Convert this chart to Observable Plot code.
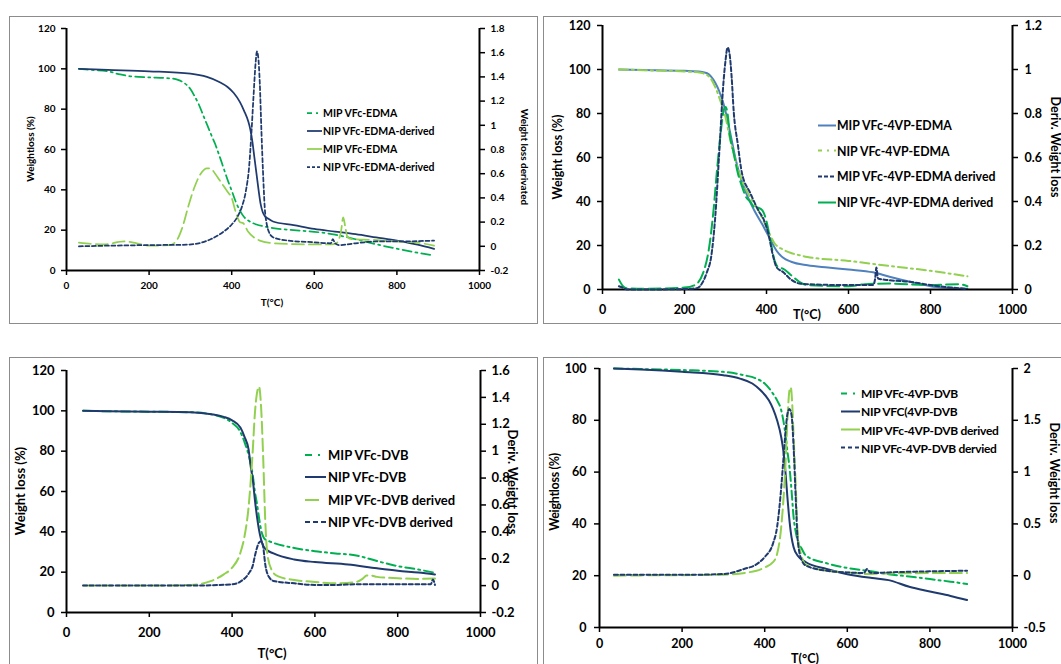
<!DOCTYPE html>
<html>
<head>
<meta charset="utf-8">
<script src="https://cdn.jsdelivr.net/npm/d3@7"></script>
<script src="https://cdn.jsdelivr.net/npm/@observablehq/plot@0.6"></script>
<style>
  html, body { margin: 0; padding: 0; background: #fff; overflow: hidden; }
  #root { position: relative; width: 1061px; height: 664px; overflow: hidden; font-family: Lato, "Open Sans", sans-serif; font-weight: bold; color: #000; }
  .abs { position: absolute; }
  .ttl { position: absolute; white-space: nowrap; font-weight: bold; }
  .leg { position: absolute; white-space: nowrap; display: flex; align-items: center; transform: translateY(-50%); font-weight: bold; }
</style>
</head>
<body>
<div id="root"></div>
<script>
// ---------------- shared ticks ----------------
const xTicks = [0, 200, 400, 600, 800, 1000];

// ---------------- Panel TL : VFc-EDMA ----------------
const tlYTicks = [0, 20, 40, 60, 80, 100, 120];
const tlY2Ticks = [-0.2, 0, 0.2, 0.4, 0.6, 0.8, 1, 1.2, 1.4, 1.6, 1.8];
const tlLabels = ["MIP VFc-EDMA", "NIP VFc-EDMA-derived", "MIP VFc-EDMA", "NIP VFc-EDMA-derived"];

const tlMipT = [30, 60, 100, 130, 160, 200, 250, 270, 285, 300, 310, 320, 330, 340, 350, 360, 370, 380, 390, 400, 410, 420, 430, 440, 460, 480, 500, 550, 600, 650, 700, 750, 800, 850, 890];
const tlMipV = [100, 99.5, 98.8, 97.2, 96.2, 95.8, 95.3, 94.5, 93, 90, 86.5, 82.5, 77.5, 72.5, 67.5, 62.7, 57, 51, 45, 39.6, 34, 29.7, 26.5, 24.8, 22.8, 21.8, 21, 20, 19.2, 17.8, 15.5, 13, 10.8, 8.8, 7.4];

const tlNipT = [30, 100, 200, 300, 340, 370, 390, 405, 420, 430, 440, 445, 450, 455, 460, 465, 470, 475, 480, 490, 500, 550, 600, 650, 700, 750, 800, 850, 890];
const tlNipV = [100, 99.5, 98.8, 97.6, 96, 93.5, 91, 88, 83.5, 79.2, 74, 70, 64, 56, 48, 40, 33, 29, 27, 25.5, 24.3, 22.5, 20.6, 19.3, 18, 16.4, 14.8, 12.8, 10.7];

const tlMipDerT = [30, 60, 90, 140, 170, 200, 250, 265, 280, 295, 310, 325, 340, 350, 360, 370, 380, 390, 400, 410, 420, 428, 440, 455, 470, 500, 550, 600, 640, 655, 665, 670, 675, 680, 690, 720, 760, 800, 850, 890];
const tlMipDerV = [0.03, 0.02, 0.015, 0.04, 0.025, 0.005, 0.01, 0.04, 0.15, 0.33, 0.49, 0.6, 0.645, 0.64, 0.6, 0.55, 0.5, 0.45, 0.4, 0.28, 0.2, 0.19, 0.12, 0.07, 0.045, 0.025, 0.018, 0.015, 0.015, 0.03, 0.13, 0.24, 0.16, 0.08, 0.06, 0.055, 0.05, 0.04, 0.03, 0.005];

const tlNipDerT = [30, 100, 200, 280, 320, 350, 380, 400, 415, 425, 435, 442, 448, 453, 458, 461, 464, 468, 472, 476, 480, 485, 490, 500, 530, 600, 640, 645, 650, 660, 700, 750, 800, 890];
const tlNipDerV = [0, 0.005, 0.01, 0.012, 0.025, 0.06, 0.12, 0.18, 0.25, 0.33, 0.47, 0.65, 0.95, 1.25, 1.52, 1.61, 1.57, 1.35, 0.95, 0.6, 0.32, 0.18, 0.12, 0.075, 0.05, 0.033, 0.025, 0.06, 0.025, 0.01, 0.025, 0.04, 0.04, 0.047];

// ---------------- Panel TR : VFc-4VP-EDMA ----------------
const trYTicks = [0, 20, 40, 60, 80, 100, 120];
const trY2Ticks = [0, 0.2, 0.4, 0.6, 0.8, 1, 1.2];
const trLabels = ["MIP VFc-4VP-EDMA", "NIP VFc-4VP-EDMA", "MIP VFc-4VP-EDMA derived", "NIP VFc-4VP-EDMA derived"];

const trMipT = [40, 100, 200, 240, 255, 265, 275, 285, 295, 305, 315, 325, 335, 350, 370, 390, 410, 425, 440, 460, 500, 550, 600, 660, 700, 750, 800, 850, 890];
const trMipV = [100, 99.8, 99.4, 99, 98.3, 96.8, 94, 90, 84.5, 77, 68, 59, 52, 44, 36, 29.5, 22.5, 17.5, 14.5, 12.6, 11, 10, 9.1, 7.8, 5.8, 3.5, 1.5, 0.7, 0.3];

const trNipT = [40, 100, 200, 240, 260, 275, 290, 300, 310, 320, 330, 340, 360, 380, 400, 420, 440, 460, 480, 500, 600, 700, 800, 890];
const trNipV = [100, 99.7, 99.1, 98.5, 96.8, 92, 84.4, 78.4, 69.3, 61.7, 55, 49.6, 42, 36, 28.4, 20.9, 18.2, 16.6, 15.6, 14.8, 13, 10.7, 8.5, 6];

const trMipDerT = [40, 50, 60, 100, 200, 230, 245, 255, 265, 275, 285, 295, 300, 305, 310, 315, 320, 330, 340, 360, 380, 395, 405, 415, 425, 440, 460, 480, 500, 600, 660, 665, 668, 672, 700, 750, 800, 850, 890];
const trMipDerV = [0.015, 0.008, 0, 0, 0.002, 0.006, 0.035, 0.08, 0.148, 0.33, 0.63, 0.94, 1.04, 1.1, 1.07, 0.965, 0.81, 0.66, 0.53, 0.44, 0.36, 0.31, 0.25, 0.16, 0.1, 0.08, 0.045, 0.027, 0.024, 0.02, 0.02, 0.05, 0.1, 0.05, 0.042, 0.035, 0.02, 0.009, 0.003];

const trNipDerT = [40, 50, 60, 100, 200, 225, 245, 260, 270, 280, 290, 295, 300, 305, 310, 320, 330, 340, 350, 360, 370, 380, 390, 400, 410, 420, 430, 440, 460, 480, 500, 600, 640, 700, 800, 870, 890];
const trNipDerV = [0.045, 0.015, 0.005, 0.003, 0.009, 0.02, 0.073, 0.19, 0.345, 0.557, 0.74, 0.81, 0.83, 0.8, 0.71, 0.62, 0.53, 0.47, 0.42, 0.4, 0.375, 0.372, 0.36, 0.31, 0.22, 0.13, 0.1, 0.095, 0.065, 0.035, 0.02, 0.015, 0.024, 0.027, 0.02, 0.024, 0.015];

// ---------------- Panel BL : VFc-DVB ----------------
const blYTicks = [0, 20, 40, 60, 80, 100, 120];
const blY2Ticks = [-0.2, 0, 0.2, 0.4, 0.6, 0.8, 1, 1.2, 1.4, 1.6];
const blLabels = ["MIP VFc-DVB", "NIP VFc-DVB", "MIP VFc-DVB derived", "NIP VFc-DVB derived"];

const blMipT = [40, 100, 200, 300, 350, 380, 400, 420, 430, 440, 450, 455, 460, 465, 470, 480, 490, 500, 550, 600, 650, 700, 750, 800, 850, 890];
const blMipV = [100, 99.8, 99.6, 99.3, 98.3, 96.5, 94, 89.5, 84.5, 78, 68, 60, 54, 47, 41, 36.2, 35.3, 34.5, 32, 30.4, 29.3, 28.3, 25.5, 23, 21.3, 19.7];

const blNipT = [40, 100, 200, 300, 350, 380, 400, 420, 430, 440, 445, 450, 455, 460, 465, 470, 475, 480, 500, 550, 600, 680, 750, 800, 850, 890];
const blNipV = [100, 99.8, 99.6, 99.3, 98.3, 97, 95.3, 91.7, 87.1, 80.6, 72.3, 65.8, 56, 47.7, 41, 36.2, 33.2, 31.6, 29.3, 26.3, 25, 23.8, 21.9, 20.7, 19.8, 18.9];

const blMipDerT = [40, 100, 200, 300, 350, 380, 400, 420, 430, 440, 450, 455, 460, 465, 470, 475, 480, 485, 495, 510, 550, 600, 650, 700, 715, 725, 735, 750, 800, 850, 890];
const blMipDerV = [0, 0, 0, 0.005, 0.035, 0.084, 0.133, 0.244, 0.367, 0.59, 1.01, 1.28, 1.43, 1.48, 1.33, 0.96, 0.49, 0.24, 0.12, 0.07, 0.042, 0.027, 0.017, 0.027, 0.05, 0.075, 0.075, 0.065, 0.055, 0.05, 0.052];

const blNipDerT = [40, 100, 200, 300, 400, 420, 440, 450, 455, 460, 465, 470, 475, 480, 485, 490, 500, 550, 600, 650, 700, 800, 880, 885, 890];
const blNipDerV = [0, 0, 0, 0, 0.01, 0.03, 0.09, 0.15, 0.22, 0.28, 0.32, 0.33, 0.29, 0.16, 0.09, 0.06, 0.035, 0.017, 0.005, 0.005, 0.01, 0.01, 0.01, 0.045, 0.005];

// ---------------- Panel BR : VFc-4VP-DVB ----------------
const brYTicks = [0, 20, 40, 60, 80, 100];
const brY2Ticks = [-0.5, 0, 0.5, 1, 1.5, 2];
const brLabels = ["MIP VFc-4VP-DVB", "NIP VFC(4VP-DVB", "MIP VFc-4VP-DVB derived", "NIP VFc-4VP-DVB dervied"];

const brMipT = [35, 100, 200, 300, 350, 380, 400, 420, 430, 440, 450, 455, 460, 465, 470, 475, 480, 490, 500, 550, 600, 650, 700, 750, 800, 850, 890];
const brMipV = [100, 99.8, 99.4, 98.7, 97.4, 96.1, 94.2, 90.3, 87.7, 83.9, 74.8, 68, 61.9, 52.9, 42.6, 37, 33.5, 30.3, 27.7, 24.8, 23, 21.9, 20.6, 19.7, 18.7, 17.7, 16.8];

const brNipT = [35, 100, 200, 300, 340, 370, 390, 410, 420, 430, 440, 445, 450, 455, 460, 465, 470, 480, 500, 550, 600, 660, 700, 750, 800, 850, 890];
const brNipV = [100, 99.6, 98.7, 97.4, 96.1, 94.2, 91.6, 87.7, 84.5, 80, 73.5, 68.4, 60.6, 50.3, 41.3, 34.8, 31, 27.7, 25.2, 22.6, 20.6, 19.1, 18.3, 15.7, 13.9, 12.2, 10.6];

const brMipDerT = [35, 100, 200, 300, 380, 400, 420, 430, 440, 450, 455, 460, 463, 467, 470, 475, 480, 490, 500, 550, 600, 650, 680, 700, 800, 890];
const brMipDerV = [0, 0.003, 0.005, 0.01, 0.048, 0.08, 0.13, 0.21, 0.47, 1.05, 1.5, 1.79, 1.82, 1.63, 1.34, 0.89, 0.4, 0.18, 0.106, 0.048, 0.032, 0.016, 0.02, 0.022, 0.025, 0.026];

const brNipDerT = [35, 100, 200, 300, 350, 380, 400, 420, 430, 440, 445, 450, 455, 460, 465, 470, 475, 480, 490, 500, 550, 600, 640, 648, 655, 665, 700, 800, 890];
const brNipDerV = [0.01, 0.01, 0.008, 0.016, 0.065, 0.11, 0.18, 0.31, 0.47, 0.85, 1.11, 1.37, 1.56, 1.61, 1.55, 1.24, 0.76, 0.34, 0.145, 0.097, 0.048, 0.032, 0.026, 0.065, 0.03, 0.026, 0.032, 0.042, 0.048];

// ---------------- styling ----------------
const NAVY = "#1f3a6e", GREEN = "#00b050", LIGHT = "#92d050", STEEL = "#4f81bd";
const DASHDOT = "9,4,2,4", LONG = "12,5", SHORT = "4,2.5";
const FONT = "Lato, 'Open Sans', sans-serif";

const pts = (T, V) => T.map((t, i) => ({T: t, v: V[i]}));
const root = document.getElementById("root");

function el(cls, css, html) {
  const d = document.createElement("div");
  d.className = cls;
  Object.assign(d.style, css);
  if (html != null) d.textContent = html;
  root.appendChild(d);
  return d;
}

function lineMark(s) {
  return Plot.line(pts(s.T, s.V), {x: "T", y: "v", stroke: s.color, strokeWidth: s.w,
    strokeDasharray: s.dash || undefined, curve: "monotone-x"});
}

function drawPanel(p) {
  const [bx, by, bw, bh] = p.box;
  el("abs", {left: bx + "px", top: by + "px", width: bw + "px", height: bh + "px",
    border: "1px solid #8c8c8c", boxSizing: "border-box"});
  const common = {
    width: bw, height: bh,
    marginLeft: p.m[0], marginRight: p.m[1], marginTop: p.m[2], marginBottom: p.m[3],
    style: {fontFamily: FONT, fontSize: p.fs + "px", fontWeight: "bold", color: "#000",
      background: "transparent", overflow: "visible", maxWidth: "none", width: bw + "px", height: bh + "px"}
  };
  const plot1 = Plot.plot({
    ...common,
    x: {domain: [0, 1000]},
    y: {domain: [p.yTicks[0], p.yTicks[p.yTicks.length - 1]]},
    marks: [
      ...p.left.map(lineMark),
      Plot.ruleX([0], {stroke: "#000", strokeWidth: 2}),
      Plot.ruleY([p.yTicks[0]], {stroke: "#000", strokeWidth: 2}),
      Plot.axisX({ticks: xTicks, tickSize: 5, tickPadding: p.xPad, tickFormat: d => String(d), label: null, strokeWidth: 1.5}),
      Plot.axisY({ticks: p.yTicks, tickSize: 5, tickPadding: p.yPad, tickFormat: d => String(d), label: null, strokeWidth: 1.5})
    ]
  });
  const plot2 = Plot.plot({
    ...common,
    x: {domain: [0, 1000], axis: null},
    y: {domain: [p.y2Ticks[0], p.y2Ticks[p.y2Ticks.length - 1]]},
    marks: [
      ...p.right.map(lineMark),
      Plot.ruleX([1000], {stroke: "#000", strokeWidth: 2}),
      Plot.axisY({anchor: "right", ticks: p.y2Ticks, tickSize: 5, tickPadding: p.y2Pad, tickFormat: d => String(d), label: null, strokeWidth: 1.5})
    ]
  });
  for (const pl of [plot1, plot2]) {
    const w = el("abs", {left: bx + "px", top: by + "px", width: bw + "px", height: bh + "px"});
    w.appendChild(pl);
  }
  for (const t of p.titles) {
    el("ttl", {left: t.x + "px", top: t.y + "px", fontSize: t.fs + "px",
      transform: `translate(-50%,-50%) rotate(${t.rot}deg)`, letterSpacing: (t.ls || 0) + "px"}, t.text);
  }
  const L = p.legend;
  p.legendItems.forEach((it, i) => {
    const row = el("leg", {left: L.x + "px", top: (L.y0 + i * L.dy) + "px", fontSize: L.fs + "px",
      letterSpacing: (L.ls || 0) + "px", wordSpacing: (L.ws || 0) + "px"});
    const ns = "http://www.w3.org/2000/svg";
    const svg = document.createElementNS(ns, "svg");
    svg.setAttribute("width", L.sw); svg.setAttribute("height", 6);
    svg.style.marginRight = L.gap + "px";
    const ln = document.createElementNS(ns, "line");
    ln.setAttribute("x1", 0); ln.setAttribute("x2", L.sw); ln.setAttribute("y1", 3); ln.setAttribute("y2", 3);
    ln.setAttribute("stroke", it.color); ln.setAttribute("stroke-width", it.w);
    if (it.dash) ln.setAttribute("stroke-dasharray", it.dash);
    svg.appendChild(ln);
    row.appendChild(svg);
    const sp = document.createElement("span");
    sp.textContent = it.label;
    row.appendChild(sp);
  });
}

// TL
drawPanel({
  box: [9, 16, 529, 308], m: [57, 59, 12, 54], fs: 10,
  xPad: 6, yPad: 6, y2Pad: 6,
  yTicks: tlYTicks, y2Ticks: tlY2Ticks,
  left: [
    {T: tlMipT, V: tlMipV, color: GREEN, w: 1.75, dash: DASHDOT},
    {T: tlNipT, V: tlNipV, color: NAVY, w: 1.75}
  ],
  right: [
    {T: tlMipDerT, V: tlMipDerV, color: LIGHT, w: 1.75, dash: LONG},
    {T: tlNipDerT, V: tlNipDerV, color: NAVY, w: 1.75, dash: SHORT}
  ],
  titles: [
    {text: "Weightloss (%)", x: 30, y: 149, rot: -90, fs: 10},
    {text: "Weight loss derivated", x: 525, y: 157, rot: 90, fs: 10},
    {text: "T(°C)", x: 272, y: 302, rot: 0, fs: 10}
  ],
  legend: {x: 307, y0: 113, dy: 18, fs: 10.5, sw: 15, gap: 1},
  legendItems: [
    {label: tlLabels[0], color: GREEN, w: 1.75, dash: "5,4,2,4"},
    {label: tlLabels[1], color: NAVY, w: 1.75},
    {label: tlLabels[2], color: LIGHT, w: 1.75},
    {label: tlLabels[3], color: NAVY, w: 1.75, dash: "3,2"}
  ]
});

// TR
drawPanel({
  box: [543, 16, 530, 308], m: [59, 61, 9, 35], fs: 12.5,
  xPad: 11, yPad: 7, y2Pad: 7,
  yTicks: trYTicks, y2Ticks: trY2Ticks,
  left: [
    {T: trMipT, V: trMipV, color: STEEL, w: 2},
    {T: trNipT, V: trNipV, color: LIGHT, w: 2, dash: DASHDOT}
  ],
  right: [
    {T: trNipDerT, V: trNipDerV, color: GREEN, w: 2, dash: LONG},
    {T: trMipDerT, V: trMipDerV, color: NAVY, w: 2, dash: SHORT}
  ],
  titles: [
    {text: "Weight loss (%)", x: 557, y: 157, rot: -90, fs: 12.5},
    {text: "Deriv. Weight loss", x: 1055, y: 147, rot: 90, fs: 12.5},
    {text: "T(°C)", x: 807, y: 314, rot: 0, fs: 12.5}
  ],
  legend: {x: 818, y0: 125, dy: 25.7, fs: 12.3, sw: 18, gap: 1},
  legendItems: [
    {label: trLabels[0], color: STEEL, w: 2},
    {label: trLabels[1], color: LIGHT, w: 2, dash: "4,5,2,5"},
    {label: trLabels[2], color: NAVY, w: 2, dash: "4,2"},
    {label: trLabels[3], color: GREEN, w: 2}
  ]
});

// BL
drawPanel({
  box: [9, 357, 529, 320], m: [57, 58, 13, 65], fs: 13,
  xPad: 10, yPad: 7, y2Pad: 6,
  yTicks: blYTicks, y2Ticks: blY2Ticks,
  left: [
    {T: blMipT, V: blMipV, color: GREEN, w: 2, dash: DASHDOT},
    {T: blNipT, V: blNipV, color: NAVY, w: 2}
  ],
  right: [
    {T: blMipDerT, V: blMipDerV, color: LIGHT, w: 2, dash: LONG},
    {T: blNipDerT, V: blNipDerV, color: NAVY, w: 2, dash: SHORT}
  ],
  titles: [
    {text: "Weight loss (%)", x: 20, y: 491, rot: -90, fs: 13},
    {text: "Deriv. Weight loss", x: 513, y: 482, rot: 90, fs: 13},
    {text: "T(°C)", x: 272, y: 653, rot: 0, fs: 13}
  ],
  legend: {x: 305, y0: 455, dy: 22.3, fs: 13, sw: 21, gap: 2},
  legendItems: [
    {label: blLabels[0], color: GREEN, w: 2, dash: "7,6,2,6"},
    {label: blLabels[1], color: NAVY, w: 2},
    {label: blLabels[2], color: LIGHT, w: 2, dash: "14,7"},
    {label: blLabels[3], color: NAVY, w: 2, dash: "5,3"}
  ]
});

// BR
drawPanel({
  box: [543, 357, 530, 320], m: [56, 61, 11, 50], fs: 12.5,
  xPad: 7, yPad: 8, y2Pad: 6,
  yTicks: brYTicks, y2Ticks: brY2Ticks,
  left: [
    {T: brMipT, V: brMipV, color: GREEN, w: 2, dash: DASHDOT},
    {T: brNipT, V: brNipV, color: NAVY, w: 2}
  ],
  right: [
    {T: brMipDerT, V: brMipDerV, color: LIGHT, w: 2, dash: LONG},
    {T: brNipDerT, V: brNipDerV, color: NAVY, w: 2, dash: SHORT}
  ],
  titles: [
    {text: "Weightloss (%)", x: 554, y: 492, rot: -90, fs: 12.5, ls: -0.3},
    {text: "Deriv. Weight loss", x: 1054, y: 473, rot: 90, fs: 12.5},
    {text: "T(°C)", x: 805, y: 658, rot: 0, fs: 12.5}
  ],
  legend: {x: 841, y0: 393, dy: 18.3, fs: 12, sw: 19, gap: 1, ls: -0.3, ws: 0},
  legendItems: [
    {label: brLabels[0], color: GREEN, w: 2, dash: "6,6,2,6"},
    {label: brLabels[1], color: NAVY, w: 2},
    {label: brLabels[2], color: LIGHT, w: 2},
    {label: brLabels[3], color: NAVY, w: 2, dash: "4,3"}
  ]
});
</script>
</body>
</html>
